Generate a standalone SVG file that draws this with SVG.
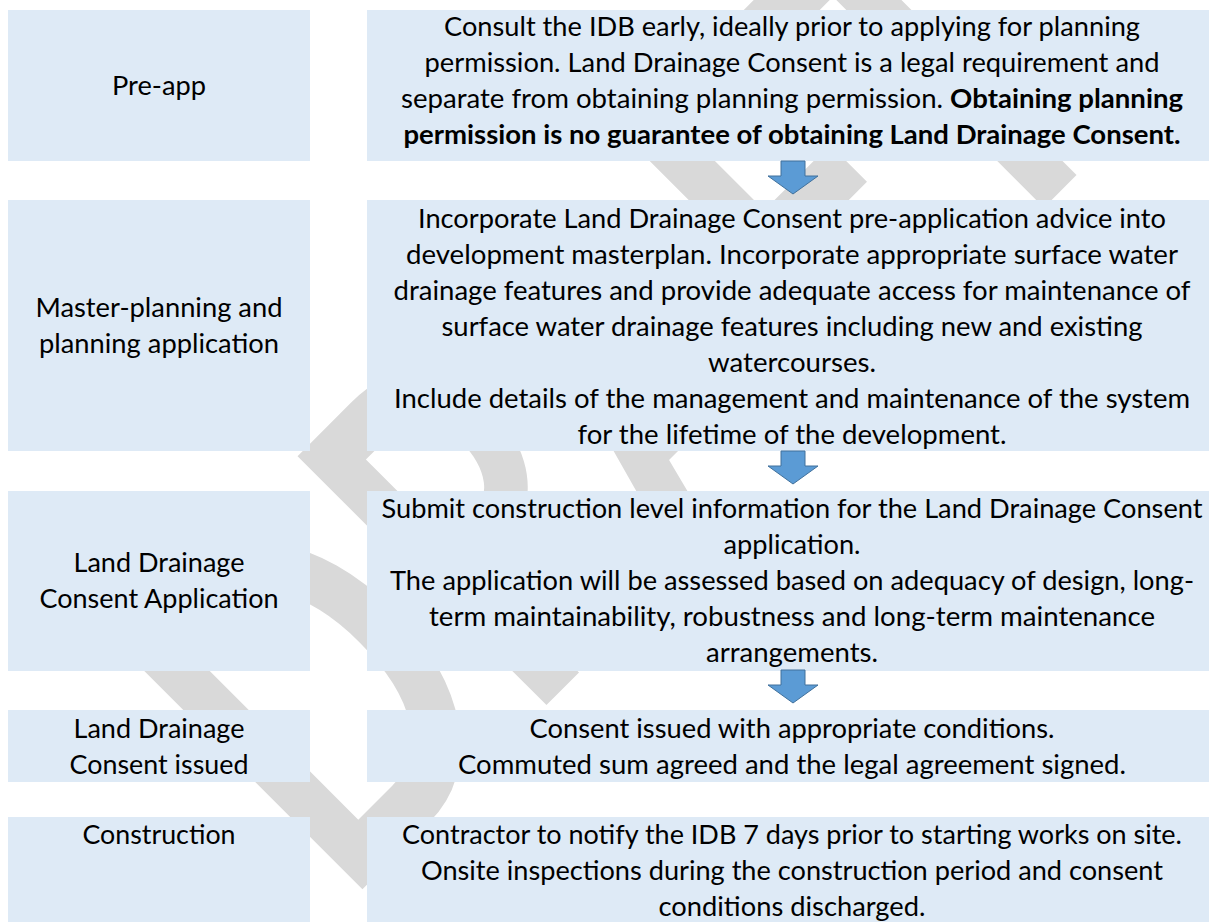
<svg xmlns="http://www.w3.org/2000/svg" width="1209" height="922" viewBox="0 0 1209 922">
  <style>
    .box { fill: #DEEAF6; }
    .t { font-family: Lato, "Liberation Sans", sans-serif; font-size: 26.5px; fill: #000; text-anchor: middle; }
    .b { font-weight: bold; }
    .arrow { fill: #5B9BD5; stroke: #41719C; stroke-width: 1; }
    .wm { font-family: Lato, "Liberation Sans", sans-serif; font-size: 487px; font-weight: bold; fill: #D9D9D9; }
  </style>
  <defs>
    <path id="down" d="M -12 0 H 12 V 15 H 25 L 0 33 L -25 15 H -12 Z"/>
  </defs>
  <rect width="1209" height="922" fill="#fff"/>

  <!-- page watermark, laid diagonally behind the flow -->
  <g id="watermark" transform="rotate(-45)">
    <text class="wm" x="-400" y="885" textLength="1117" lengthAdjust="spacingAndGlyphs">DRAFT</text>
  </g>

  <g id="preapp">
    <rect class="box" x="8" y="10" width="302" height="151"/>
    <text class="t" x="159" y="95" textLength="94" lengthAdjust="spacingAndGlyphs">Pre-app</text>
  </g>
  <g id="preapp-detail">
    <rect class="box" x="367" y="10" width="842" height="151"/>
    <text class="t" x="792" y="36" textLength="696" lengthAdjust="spacingAndGlyphs">Consult the IDB early, ideally prior to applying for planning</text>
    <text class="t" x="792" y="72" textLength="735" lengthAdjust="spacingAndGlyphs">permission. Land Drainage Consent is a legal requirement and</text>
    <text class="t" x="792" y="108" textLength="782" lengthAdjust="spacingAndGlyphs">separate from obtaining planning permission. <tspan class="b">Obtaining planning</tspan></text>
    <text class="t b" x="792" y="144" textLength="777" lengthAdjust="spacingAndGlyphs">permission is no guarantee of obtaining Land Drainage Consent.</text>
  </g>

  <g id="masterplanning">
    <rect class="box" x="8" y="200" width="302" height="251"/>
    <text class="t" x="159" y="316.5" textLength="247" lengthAdjust="spacingAndGlyphs">Master-planning and</text>
    <text class="t" x="159" y="352.5" textLength="240" lengthAdjust="spacingAndGlyphs">planning application</text>
  </g>
  <g id="masterplanning-detail">
    <rect class="box" x="367" y="200" width="842" height="251"/>
    <text class="t" x="792" y="227.5" textLength="748" lengthAdjust="spacingAndGlyphs">Incorporate Land Drainage Consent pre-application advice into</text>
    <text class="t" x="792" y="263.5" textLength="772" lengthAdjust="spacingAndGlyphs">development masterplan. Incorporate appropriate surface water</text>
    <text class="t" x="792" y="299.5" textLength="797" lengthAdjust="spacingAndGlyphs">drainage features and provide adequate access for maintenance of</text>
    <text class="t" x="792" y="335.5" textLength="701" lengthAdjust="spacingAndGlyphs">surface water drainage features including new and existing</text>
    <text class="t" x="792" y="371.5" textLength="168" lengthAdjust="spacingAndGlyphs">watercourses.</text>
    <text class="t" x="792" y="407.5" textLength="796" lengthAdjust="spacingAndGlyphs">Include details of the management and maintenance of the system</text>
    <text class="t" x="792" y="443.5" textLength="429" lengthAdjust="spacingAndGlyphs">for the lifetime of the development.</text>
  </g>

  <g id="ldc-application">
    <rect class="box" x="8" y="491" width="302" height="180"/>
    <text class="t" x="159" y="572" textLength="171" lengthAdjust="spacingAndGlyphs">Land Drainage</text>
    <text class="t" x="159" y="608" textLength="239" lengthAdjust="spacingAndGlyphs">Consent Application</text>
  </g>
  <g id="ldc-application-detail">
    <rect class="box" x="367" y="491" width="842" height="180"/>
    <text class="t" x="792" y="517.5" textLength="821" lengthAdjust="spacingAndGlyphs">Submit construction level information for the Land Drainage Consent</text>
    <text class="t" x="792" y="553.5" textLength="137" lengthAdjust="spacingAndGlyphs">application.</text>
    <text class="t" x="792" y="589.5" textLength="804" lengthAdjust="spacingAndGlyphs">The application will be assessed based on adequacy of design, long-</text>
    <text class="t" x="792" y="625.5" textLength="726" lengthAdjust="spacingAndGlyphs">term maintainability, robustness and long-term maintenance</text>
    <text class="t" x="792" y="661.5" textLength="172" lengthAdjust="spacingAndGlyphs">arrangements.</text>
  </g>

  <g id="ldc-issued">
    <rect class="box" x="8" y="710" width="302" height="72"/>
    <text class="t" x="159" y="737.5" textLength="171" lengthAdjust="spacingAndGlyphs">Land Drainage</text>
    <text class="t" x="159" y="773.5" textLength="179" lengthAdjust="spacingAndGlyphs">Consent issued</text>
  </g>
  <g id="ldc-issued-detail">
    <rect class="box" x="367" y="710" width="842" height="72"/>
    <text class="t" x="792" y="737.5" textLength="525" lengthAdjust="spacingAndGlyphs">Consent issued with appropriate conditions.</text>
    <text class="t" x="792" y="773.5" textLength="668" lengthAdjust="spacingAndGlyphs">Commuted sum agreed and the legal agreement signed.</text>
  </g>

  <g id="construction">
    <rect class="box" x="8" y="817" width="302" height="110"/>
    <text class="t" x="159" y="843.5" textLength="153" lengthAdjust="spacingAndGlyphs">Construction</text>
  </g>
  <g id="construction-detail">
    <rect class="box" x="367" y="817" width="842" height="110"/>
    <text class="t" x="792" y="843.5" textLength="780" lengthAdjust="spacingAndGlyphs">Contractor to notify the IDB 7 days prior to starting works on site.</text>
    <text class="t" x="792" y="879.5" textLength="742" lengthAdjust="spacingAndGlyphs">Onsite inspections during the construction period and consent</text>
    <text class="t" x="792" y="915.5" textLength="267" lengthAdjust="spacingAndGlyphs">conditions discharged.</text>
  </g>

  <g id="connectors">
    <use href="#down" class="arrow" x="793" y="161"/>
    <use href="#down" class="arrow" x="793" y="451"/>
    <use href="#down" class="arrow" x="793" y="670"/>
  </g>
</svg>
